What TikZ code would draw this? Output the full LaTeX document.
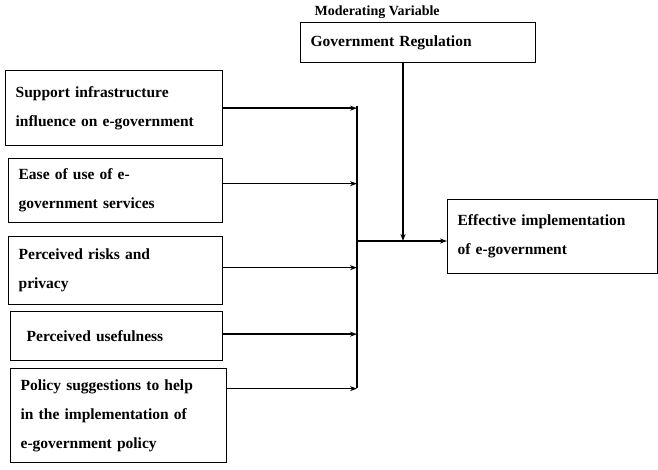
\documentclass[tikz,border=0pt]{standalone}
\usepackage{fontspec}
\setmainfont{Liberation Serif}
\usetikzlibrary{positioning}
\usetikzlibrary{arrows.meta}

\tikzset{
  factor/.style={draw, line width=1.3pt, align=left, anchor=north west, inner xsep=10pt,
    font=\bfseries\fontsize{15.5}{29}\selectfont},
  link/.style={line width=1.5pt, -{Stealth[length=7pt,width=5pt]}}
}

\begin{document}
\begin{tikzpicture}[x=1pt,y=-1pt]
		\useasboundingbox (0,0) rectangle (658,469);

		% Independent variables
		\node[factor, minimum width=217pt, minimum height=75pt, text width=197pt] (infra) at (5,70)
			{Support infrastructure\\influence on e-government};
		\node[factor, minimum width=214pt, minimum height=64pt, text width=194pt] (ease) at (8,158)
			{Ease of use of e-\\government services};
		\node[factor, minimum width=214pt, minimum height=68pt, text width=194pt] (risk) at (8,236)
			{Perceived risks and\\privacy};
		\node[factor, minimum width=212pt, minimum height=49pt, text width=192pt] (useful) at (10,311)
			{\hspace{6pt}Perceived usefulness};
		\node[factor, minimum width=216pt, minimum height=94pt, text width=196pt] (policy) at (10,368)
			{Policy suggestions to help\\in the implementation of\\e-government policy};

		% Moderating variable
		\node[factor, minimum width=235pt, minimum height=40pt, text width=215pt] (regul) at (300,22)
			{Government Regulation};
		\node[anchor=west, font=\bfseries\fontsize{14}{15}\selectfont] (modlabel) at (311,12) {Moderating Variable};

		% Dependent variable
		\node[factor, minimum width=210pt, minimum height=74pt, text width=190pt] (effect) at (447,199)
			{Effective implementation\\of e-government};

		% Bus
		\coordinate (bustop) at (357,106);
		\coordinate (busbot) at (357,388);
		\coordinate (busmid) at (357,241);
		\draw[line width=1.5pt] (bustop) -- (busbot);

		\draw[link] (infra.east) -- (infra.east -| bustop);
		\draw[link] ([yshift=7pt]ease.east) -- ([yshift=7pt]ease.east -| bustop);
		\draw[link] ([yshift=3pt]risk.east) -- ([yshift=3pt]risk.east -| bustop);
		\draw[link] ([yshift=2pt]useful.east) -- ([yshift=2pt]useful.east -| bustop);
		\draw[link] ([yshift=27pt]policy.east) -- ([yshift=27pt]policy.east -| bustop);

		\draw[link] (busmid) -- (busmid -| effect.west);
		\draw[link] ([xshift=103pt]regul.south west) -- ([xshift=103pt]regul.south west |- busmid);
	\end{tikzpicture}
\end{document}
